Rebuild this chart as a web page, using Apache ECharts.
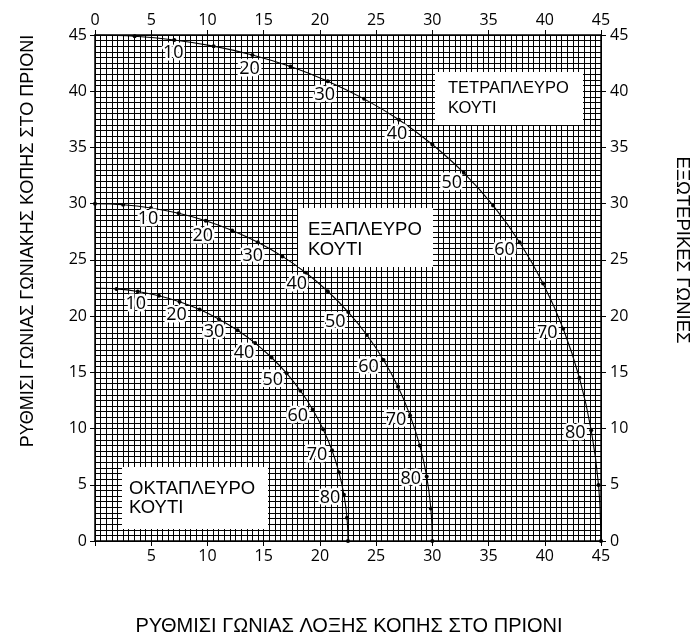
<!DOCTYPE html>
<html>
<head>
<meta charset="utf-8">
<script src="https://cdn.jsdelivr.net/npm/echarts@6/dist/echarts.min.js"></script>
<style>
html,body{margin:0;padding:0;background:#fff;}
#chart{width:694px;height:634px;}
</style>
</head>
<body>
<div id="chart"></div>
<script>
// Side tilt angles (degrees) at which points are plotted
const tiltAngles = [0,5,10,15,20,25,30,35,40,45,50,55,60,65,70,75,80,85,90];
const labelledAngles = [10,20,30,40,50,60,70,80];

// 4-sided box: blade bevel (x) and miter (y)
const tetraBevel = [0,3.53,7.05,10.55,14.00,17.39,20.70,23.93,27.03,30.00,32.80,35.40,37.76,39.85,41.64,43.08,44.13,44.78,45.00];
const tetraMiter = [45.00,44.89,44.56,44.01,43.22,42.19,40.89,39.32,37.46,35.26,32.74,29.84,26.57,22.91,18.88,14.51,9.85,4.98,0];

// 6-sided box
const hexaBevel = [0,2.50,4.98,7.44,9.85,12.20,14.48,16.67,18.75,20.70,22.52,24.18,25.66,26.95,28.02,28.88,29.50,29.87,30.00];
const hexaMiter = [30.00,29.91,29.62,29.14,28.48,27.62,26.57,25.31,23.86,22.21,20.36,18.32,16.10,13.71,11.17,8.50,5.73,2.88,0];

// 8-sided box
const octaBevel = [0,1.91,3.81,5.68,7.52,9.31,11.03,12.68,14.24,15.70,17.05,18.27,19.36,20.29,21.08,21.69,22.14,22.41,22.50];
const octaMiter = [22.50,22.42,22.19,21.81,21.27,20.58,19.73,18.74,17.60,16.32,14.91,13.36,11.70,9.93,8.06,6.12,4.11,2.07,0];

const axisTicks = [0,5,10,15,20,25,30,35,40,45];

const xTitle = 'ΡΥΘΜΙΣΙ ΓΩΝΙΑΣ ΛΟΞΗΣ ΚΟΠΗΣ ΣΤΟ ΠΡΙΟΝΙ';
const yTitle = 'ΡΥΘΜΙΣΙ ΓΩΝΙΑΣ ΓΩΝΙΑΚΗΣ ΚΟΠΗΣ ΣΤΟ ΠΡΙΟΝΙ';
const y2Title = 'ΕΞΩΤΕΡΙΚΕΣ ΓΩΝΙΕΣ';
const boxNames = ['ΤΕΤΡΑΠΛΕΥΡΟ\nΚΟΥΤΙ', 'ΕΞΑΠΛΕΥΡΟ\nΚΟΥΤΙ', 'ΟΚΤΑΠΛΕΥΡΟ\nΚΟΥΤΙ'];

// ---- styling (pixel offsets of the curve labels) ----
const tetraLabelOffsets = [[-1,13],[-3,14],[-3,14],[-2,14],[-12,10],[-15,8],[-16,4],[-16,3]];
const hexaLabelOffsets  = [[-3,11],[-3,15],[-5,14],[-9,11],[-13,10],[-15,7],[-14,4],[-16,2]];
const octaLabelOffsets  = [[-2,12],[-3,13],[-5,13],[-11,10],[-14,7],[-15,6],[-15,5],[-14,3]];

const numFont = '"Open Sans", "DejaVu Sans", sans-serif';
const txtFont = '"Liberation Sans", Arial, sans-serif';

function curveData(bx, my, hideFirst) {
  return tiltAngles.map((t, i) => {
    const d = { name: String(t), value: [bx[i], my[i]] };
    if (hideFirst && i === 0) d.symbolSize = 0;
    return d;
  });
}
function labelData(bx, my, offsets) {
  return labelledAngles.map((t, k) => {
    const i = tiltAngles.indexOf(t);
    return { name: String(t), value: [bx[i], my[i]], label: { offset: offsets[k] } };
  });
}

function lineSeries(name, bx, my, hideFirst) {
  return {
    name, type: 'line', smooth: 0.4, data: curveData(bx, my, hideFirst),
    symbol: 'circle', symbolSize: 4, showSymbol: true,
    lineStyle: { color: '#000', width: 1.1 },
    itemStyle: { color: '#000' },
    silent: true, z: 3, animation: false
  };
}
function labelSeries(name, bx, my, offsets, halo) {
  return {
    name: name + (halo ? '-halo' : '-labels'), type: 'scatter', data: labelData(bx, my, offsets),
    symbol: 'circle', symbolSize: 0, itemStyle: { color: '#000', opacity: 1 },
    label: halo ? {
      show: true, position: 'inside', formatter: p => p.name,
      fontFamily: numFont, fontSize: 18, color: '#fff',
      textBorderColor: '#fff', textBorderWidth: 5
    } : {
      show: true, position: 'inside', formatter: p => p.name,
      fontFamily: numFont, fontSize: 18, color: '#000',
      textBorderWidth: 0
    },
    emphasis: { disabled: true },
    silent: true, z: halo ? 4 : 5, animation: false
  };
}

const axisLineStyle = { color: '#000', width: 1.5 };
const gridLineStyle = { color: '#000', width: 1 };

function makeAxis(position, withGrid, hideZero) {
  return {
    type: 'value', position, min: 0, max: 45, interval: 5,
    axisLine: { show: true, onZero: false, lineStyle: axisLineStyle },
    axisTick: { show: true, inside: false, length: 5, lineStyle: { color: '#000', width: 1 } },
    axisLabel: {
      show: true, margin: 7, fontFamily: numFont, fontSize: 16, color: '#000',
      formatter: v => (hideZero && v === 0) ? '' : String(v)
    },
    splitLine: { show: withGrid, lineStyle: gridLineStyle },
    minorTick: { show: false, splitNumber: 10 },
    minorSplitLine: { show: withGrid, lineStyle: gridLineStyle }
  };
}

const chart = echarts.init(document.getElementById('chart'), null, { renderer: 'canvas' });

const xBottom = makeAxis('bottom', true, true);
const xTop = makeAxis('top', false, false);
const yLeft = makeAxis('left', true, false);
yLeft.axisLabel.margin = 8;
const yRight = makeAxis('right', false, false);
yRight.axisLabel.margin = 9;

function boxGraphic(text, x, y, w, h, tx, ty, size, lh) {
  return [
    { type: 'rect', z: 10, shape: { x, y, width: w, height: h }, style: { fill: '#fff' } },
    { type: 'text', z: 11, x: tx, y: ty,
      style: { text, font: size + 'px ' + txtFont, fill: '#000', lineHeight: lh, align: 'left', verticalAlign: 'top' } }
  ];
}

chart.setOption({
  animation: false,
  backgroundColor: '#fff',
  grid: { left: 95, top: 35, width: 506, height: 506, show: false },
  xAxis: [xBottom, xTop],
  yAxis: [yLeft, yRight],
  series: [
    lineSeries('tetra', tetraBevel, tetraMiter, true),
    lineSeries('hexa', hexaBevel, hexaMiter, false),
    lineSeries('octa', octaBevel, octaMiter, true),
    labelSeries('tetra', tetraBevel, tetraMiter, tetraLabelOffsets, true),
    labelSeries('hexa', hexaBevel, hexaMiter, hexaLabelOffsets, true),
    labelSeries('octa', octaBevel, octaMiter, octaLabelOffsets, true),
    labelSeries('tetra', tetraBevel, tetraMiter, tetraLabelOffsets, false),
    labelSeries('hexa', hexaBevel, hexaMiter, hexaLabelOffsets, false),
    labelSeries('octa', octaBevel, octaMiter, octaLabelOffsets, false)
  ],
  graphic: [].concat(
    boxGraphic(boxNames[0], 435, 72, 148, 53, 448, 78, 16.5, 20),
    boxGraphic(boxNames[1], 298, 208, 135, 59, 308, 220, 18.5, 20),
    boxGraphic(boxNames[2], 122, 467, 146, 62, 129, 479, 18.5, 19),
    [
      { type: 'text', z: 11, x: 28, y: 241, rotation: Math.PI / 2,
        style: { text: yTitle, font: '18px ' + txtFont, fill: '#000', align: 'center', verticalAlign: 'middle' } },
      { type: 'text', z: 11, x: 682, y: 250, rotation: -Math.PI / 2,
        style: { text: y2Title, font: '18.5px ' + txtFont, fill: '#000', align: 'center', verticalAlign: 'middle' } },
      { type: 'text', z: 11, x: 349, y: 626,
        style: { text: xTitle, font: '20px ' + txtFont, fill: '#000', align: 'center', verticalAlign: 'middle' } }
    ]
  )
});
</script>
</body>
</html>
